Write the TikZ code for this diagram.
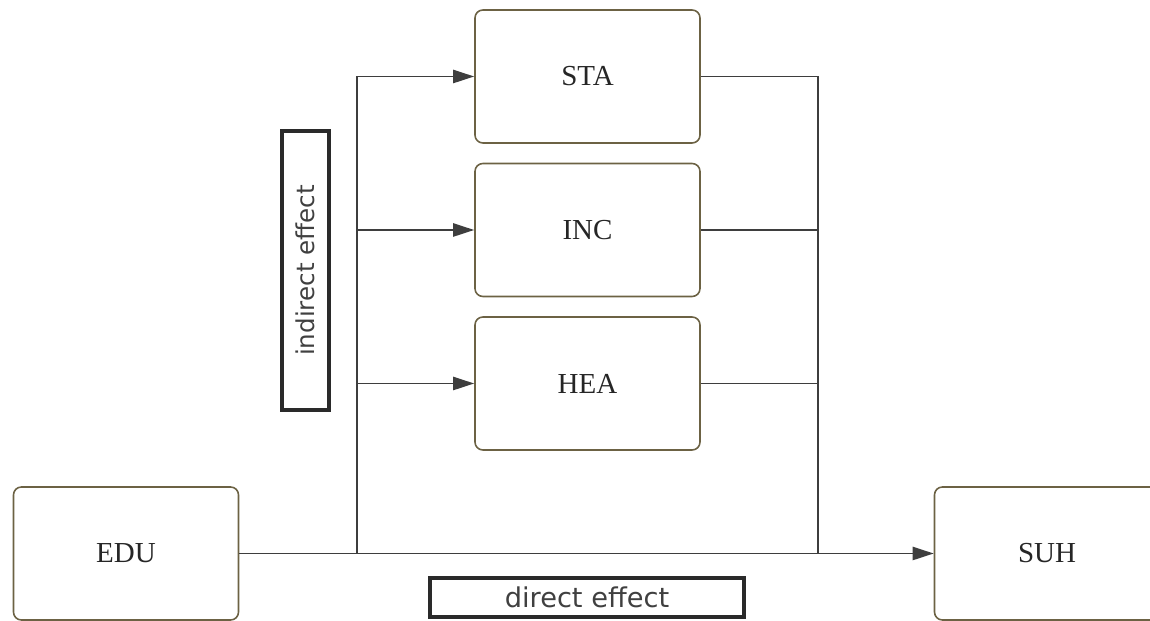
\documentclass[tikz,border=0pt]{standalone}
\usepackage{fontspec}
\setmainfont{Liberation Serif}
\newfontfamily\effectfont{DejaVu Sans}
\usepackage{xcolor}
\usepackage{tikz}
\usetikzlibrary{arrows.meta, positioning}
\definecolor{boxolive}{RGB}{108, 98, 68}
\definecolor{linegray}{RGB}{62, 62, 62}
\definecolor{tagdark}{RGB}{42, 42, 42}

\begin{document}
\begin{tikzpicture}[
  var/.style={rectangle, rounded corners=4.5pt, draw=boxolive, line width=0.9pt,
              minimum width=4.5cm, minimum height=2.66cm, font=\fontsize{16.5}{18}\selectfont,
              text=black!85},
  tag/.style={rectangle, draw=tagdark, line width=1.8pt, inner sep=0pt, text=black!75},
  arr/.style={-{Triangle[length=12pt, width=7.5pt]}, line width=1.1pt, linegray},
  link/.style={line width=1.1pt, linegray}
]
\useasboundingbox (0,0) rectangle (23,12.42);

% mediators
\node[var] (STA) at (11.75,10.89) {STA};
\node[var] (INC) at (11.75,7.82) {INC};
\node[var] (HEA) at (11.75,4.75) {HEA};

% cause and outcome
\node[var] (EDU) at (2.52,1.35) {EDU};
\node[var] (SUH) at (20.94,1.35) {SUH};

% labels
\node[tag, rotate=90, minimum width=5.58cm, minimum height=0.94cm,
      font=\effectfont\fontsize{14}{16}\selectfont] (IND) at (6.11,7.01) {indirect effect};
\node[tag, minimum width=6.28cm, minimum height=0.78cm,
      font=\effectfont\fontsize{15.5}{17}\selectfont] (DIR) at (11.74,0.47) {direct effect};

\coordinate (split) at (7.14,1.36);
\coordinate (merge) at (16.36,1.36);

\draw[arr] (EDU) -- (SUH);
\draw[link] (split) -- (split |- STA);
\draw[arr] (split |- STA) -- (STA);
\draw[arr] (split |- INC) -- (INC);
\draw[arr] (split |- HEA) -- (HEA);
\draw[link] (STA) -| (merge);
\draw[link] (INC) -- (INC -| merge);
\draw[link] (HEA) -- (HEA -| merge);
\end{tikzpicture}
\end{document}
